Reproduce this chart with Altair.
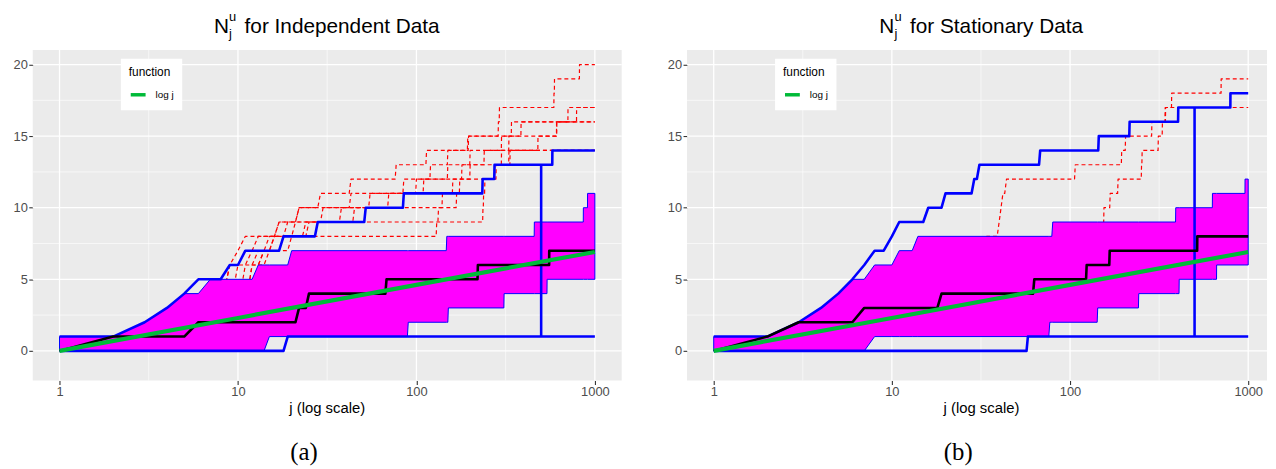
import altair as alt
import pandas as pd

# ---------------- data ----------------
# Step functions are given as (first j of each level, level)
# ---- (a) Independent data ----
A_MAX_J = [1, 3, 4, 5, 6, 9, 11, 18, 28, 52, 85, 235, 274, 578]
A_MAX_V = [1, 2, 3, 4, 5, 6, 7, 8, 9, 10, 11, 12, 13, 14]
A_MIN_J = [1, 19]
A_MIN_V = [0, 1]
A_SPIKE_J = [500, 500]
A_SPIKE_V = [1, 13]
A_HI_J = [1, 3, 4, 5, 7, 13, 20, 148, 458, 862, 910]
A_HI_V = [1, 2, 3, 4, 5, 6, 7, 8, 9, 10, 11]
A_LO_J = [1, 15, 90, 151, 310, 540]
A_LO_V = [0, 1, 2, 3, 4, 5]
A_MED_J = [1, 2, 6, 22, 25, 68, 221, 555]
A_MED_V = [0, 1, 2, 3, 4, 5, 6, 7]
A_RED1_J = [6, 9, 10, 11, 17, 22, 29, 43, 77, 114, 194, 288, 292, 590, 594, 820]
A_RED1_V = [3, 6, 7, 8, 9, 10, 11, 12, 13, 14, 15, 16, 17, 18, 19, 20]
A_RED2_J = [6, 13, 15, 20, 130, 133, 140, 160, 200, 240, 330, 341, 707]
A_RED2_V = [3, 6, 7, 8, 9, 10, 11, 12, 13, 14, 15, 16, 17]
A_RED3_J = [6, 12, 14, 16, 17, 236, 238, 242, 275, 330, 480, 610]
A_RED3_V = [3, 6, 7, 8, 9, 10, 11, 12, 13, 14, 15, 16]
A_RED4_J = [6, 11, 13, 16, 19, 22, 168, 175, 280, 300]
A_RED4_V = [3, 6, 7, 8, 9, 10, 11, 12, 13, 14]
A_RED5_J = [6, 12, 14, 18, 21, 30, 43, 85, 120, 150, 196, 386, 790]
A_RED5_V = [3, 6, 7, 8, 9, 10, 11, 12, 13, 14, 15, 16, 17]
A_RED6_J = [6, 9, 11, 13, 25, 38, 55, 100, 150, 200, 300, 612]
A_RED6_V = [3, 6, 7, 8, 9, 10, 11, 12, 13, 14, 15, 16]
A_RED7_J = [6, 10, 12, 15, 24, 45, 70, 110, 180, 335]
A_RED7_V = [3, 6, 7, 8, 9, 10, 11, 12, 13, 14]

# ---- (b) Stationary data ----
B_MAX_J = [1, 3, 4, 5, 6, 7, 8, 10, 11, 16, 20, 29, 31, 68, 145, 216, 405, 795]
B_MAX_V = [1, 2, 3, 4, 5, 6, 7, 8, 9, 10, 11, 12, 13, 14, 15, 16, 17, 18]
B_MIN_J = [1, 58]
B_MIN_V = [0, 1]
B_SPIKE_J = [500, 500]
B_SPIKE_V = [1, 17]
B_HI_J = [1, 3, 4, 5, 6, 8, 11, 14, 80, 392, 630, 960]
B_HI_V = [1, 2, 3, 4, 5, 6, 7, 8, 9, 10, 11, 12]
B_LO_J = [1, 8, 77, 143, 243, 410, 665]
B_LO_V = [0, 1, 2, 3, 4, 5, 6]
B_MED_J = [1, 2, 3, 7, 19, 63, 124, 167, 518]
B_MED_V = [0, 1, 2, 3, 4, 5, 6, 7, 8]
B_RED1_J = [10, 20, 34, 40, 41, 42, 44, 107, 195, 205, 288, 344, 372, 705]
B_RED1_V = [4, 7, 8, 9, 10, 11, 12, 13, 14, 15, 16, 17, 18, 19]
B_RED2_J = [10, 20, 90, 155, 168, 186, 252, 254, 313, 330, 342]
B_RED2_V = [4, 7, 8, 10, 11, 12, 13, 14, 15, 16, 17]

# log j reference line (values of ln j read at the decades)
LOGJ_J = [1, 10, 100, 1000]
LOGJ_V = [0.0, 2.30, 4.61, 6.91]

# axis breaks
X_MAJOR = [1, 10, 100, 1000]
X_MINOR = [3.162, 31.62, 316.2]
Y_MAJOR = [0, 5, 10, 15, 20]
Y_MINOR = [2.5, 7.5, 12.5, 17.5]

J_END = 1000
FONT = "Liberation Sans"


def step_rows(js, vs, end=J_END):
    rows = []
    for k in range(len(js)):
        s = js[k]
        e = js[k + 1] - 1 if k + 1 < len(js) else end
        rows.append((s, vs[k]))
        if e > s:
            rows.append((e, vs[k]))
    return rows


def level_at(js, vs, j):
    lv = vs[0]
    for s, v in zip(js, vs):
        if s <= j:
            lv = v
    return lv


def band_frame(hj, hv, lj, lv):
    grid = set()
    for js in (hj, lj):
        for k in range(len(js)):
            grid.add(js[k])
            if k + 1 < len(js):
                grid.add(js[k + 1] - 1)
        grid.add(J_END)
    grid = sorted(grid)
    return pd.DataFrame({
        "j": grid,
        "hi": [level_at(hj, hv, g) for g in grid],
        "lo": [level_at(lj, lv, g) for g in grid],
    })


def paths_frame(paths):
    rows = []
    for name, (js, vs) in paths.items():
        for i, (j, v) in enumerate(step_rows(js, vs)):
            rows.append({"j": j, "v": v, "path": name, "ord": i})
    return pd.DataFrame(rows)


def text_layer(txt, x, y, size, font=FONT, align="left"):
    return alt.Chart(pd.DataFrame({"a": [0]})).mark_text(
        text=txt, fontSize=size, font=font, align=align,
        baseline="alphabetic", color="black"
    ).encode(x=alt.value(x), y=alt.value(y))


def panel(width, xdom, mx, mn, spike, hi, lo, med, reds, title_rest, title_x, caption):
    xs = alt.Scale(type="log", domain=xdom, nice=False)
    ys = alt.Scale(domain=[-2.07, 21.02], nice=False, zero=False)

    xaxis = alt.Axis(values=X_MAJOR, format="d", grid=False, domain=False,
                     tickSize=4, tickColor="#333333", tickWidth=1.1,
                     labelFontSize=13, labelColor="#4D4D4D", labelFont=FONT,
                     labelPadding=1, labelFlush=False, title=None)
    yaxis = alt.Axis(values=Y_MAJOR, grid=False, domain=False,
                     tickSize=4, tickColor="#333333", tickWidth=1.1,
                     labelFontSize=13, labelColor="#4D4D4D", labelFont=FONT,
                     labelPadding=1.5, minExtent=25, maxExtent=25, title=None)

    def X():
        return alt.X("j:Q", scale=xs, axis=xaxis)

    def Y(f="v:Q"):
        return alt.Y(f, scale=ys, axis=yaxis)

    gx_major = alt.Chart(pd.DataFrame({"j": X_MAJOR})).mark_rule(
        color="white", strokeWidth=1.3).encode(x=X())
    gx_minor = alt.Chart(pd.DataFrame({"j": X_MINOR})).mark_rule(
        color="white", strokeWidth=0.6).encode(x=X())
    gy_major = alt.Chart(pd.DataFrame({"v": Y_MAJOR})).mark_rule(
        color="white", strokeWidth=1.3).encode(y=Y())
    gy_minor = alt.Chart(pd.DataFrame({"v": Y_MINOR})).mark_rule(
        color="white", strokeWidth=0.6).encode(y=Y())

    red = alt.Chart(paths_frame(reds)).mark_line(
        color="#FF0000", strokeWidth=1.2, strokeDash=[4, 3], strokeJoin="round"
    ).encode(x=X(), y=Y(), detail="path:N", order="ord:Q")

    band = alt.Chart(band_frame(*hi, *lo)).mark_area(
        color="#FF00FF", opacity=1, stroke="#0000FF", strokeWidth=1.0,
        strokeJoin="round"
    ).encode(x=X(), y=Y("hi:Q"), y2="lo:Q")

    blue_rows = paths_frame({"max": mx, "min": mn})
    sp = pd.DataFrame({"j": spike[0], "v": spike[1], "path": "spike",
                       "ord": list(range(len(spike[0])))})
    blue_df = pd.concat([blue_rows, sp], ignore_index=True)
    blue = alt.Chart(blue_df).mark_line(
        color="#0000FF", strokeWidth=2.6, strokeJoin="round"
    ).encode(x=X(), y=Y(), detail="path:N", order="ord:Q")

    black = alt.Chart(paths_frame({"med": med})).mark_line(
        color="black", strokeWidth=2.6, strokeJoin="round"
    ).encode(x=X(), y=Y(), detail="path:N", order="ord:Q")

    green_df = pd.DataFrame({"j": LOGJ_J, "v": LOGJ_V, "fn": "log j"})
    legend = alt.Legend(
        title="function", orient="none", legendX=89, legendY=9,
        fillColor="white", padding=8, titleFontSize=12,
        titleFontWeight="normal", titleColor="black", titleFont=FONT,
        titlePadding=6.8, labelFontSize=10, labelColor="black", labelFont=FONT,
        labelOffset=8, symbolType="stroke", symbolSize=225,
        symbolStrokeWidth=3.5)
    green = alt.Chart(green_df).mark_line(strokeWidth=4.2).encode(
        x=X(), y=Y(),
        color=alt.Color("fn:N", scale=alt.Scale(domain=["log j"],
                                                range=["#00BA38"]),
                        legend=legend))

    texts = [
        text_layer("N", title_x, -17.5, 21),
        text_layer("u", title_x + 15.3, -29.5, 13),
        text_layer("j", title_x + 15.3, -12, 13),
        text_layer(title_rest, title_x + 31, -17.5, 21),
        text_layer("j (log scale)", 297.5, 367, 15, align="center"),
        text_layer(caption, 274, 414, 25, font="Liberation Serif",
                   align="center"),
    ]

    return alt.layer(gx_minor, gy_minor, gx_major, gy_major, red, band, blue,
                     black, green, *texts).properties(
        width=width, height=334,
        view=alt.ViewBackground(fill="#EBEBEB", strokeWidth=0))


left = panel(
    595, [0.708, 1413],
    (A_MAX_J, A_MAX_V), (A_MIN_J, A_MIN_V), (A_SPIKE_J, A_SPIKE_V),
    (A_HI_J, A_HI_V), (A_LO_J, A_LO_V), (A_MED_J, A_MED_V),
    {"r1": (A_RED1_J, A_RED1_V), "r2": (A_RED2_J, A_RED2_V),
     "r3": (A_RED3_J, A_RED3_V), "r4": (A_RED4_J, A_RED4_V),
     "r5": (A_RED5_J, A_RED5_V), "r6": (A_RED6_J, A_RED6_V),
     "r7": (A_RED7_J, A_RED7_V)},
    "for Independent Data", 183, "(a)")

right = panel(
    586, [0.708, 10 ** (-0.15 + 586 / 180)],
    (B_MAX_J, B_MAX_V), (B_MIN_J, B_MIN_V), (B_SPIKE_J, B_SPIKE_V),
    (B_HI_J, B_HI_V), (B_LO_J, B_LO_V), (B_MED_J, B_MED_V),
    {"s1": (B_RED1_J, B_RED1_V), "s2": (B_RED2_J, B_RED2_V)},
    "for Stationary Data", 194.3, "(b)")

chart = alt.hconcat(left, right, spacing=40).resolve_scale(
    x="independent", y="independent", color="independent"
).properties(padding=0).configure_view(
    fill="#EBEBEB", strokeWidth=0
).configure(font=FONT)

chart.save("out.html", embed_options={"renderer": "svg", "actions": False})
